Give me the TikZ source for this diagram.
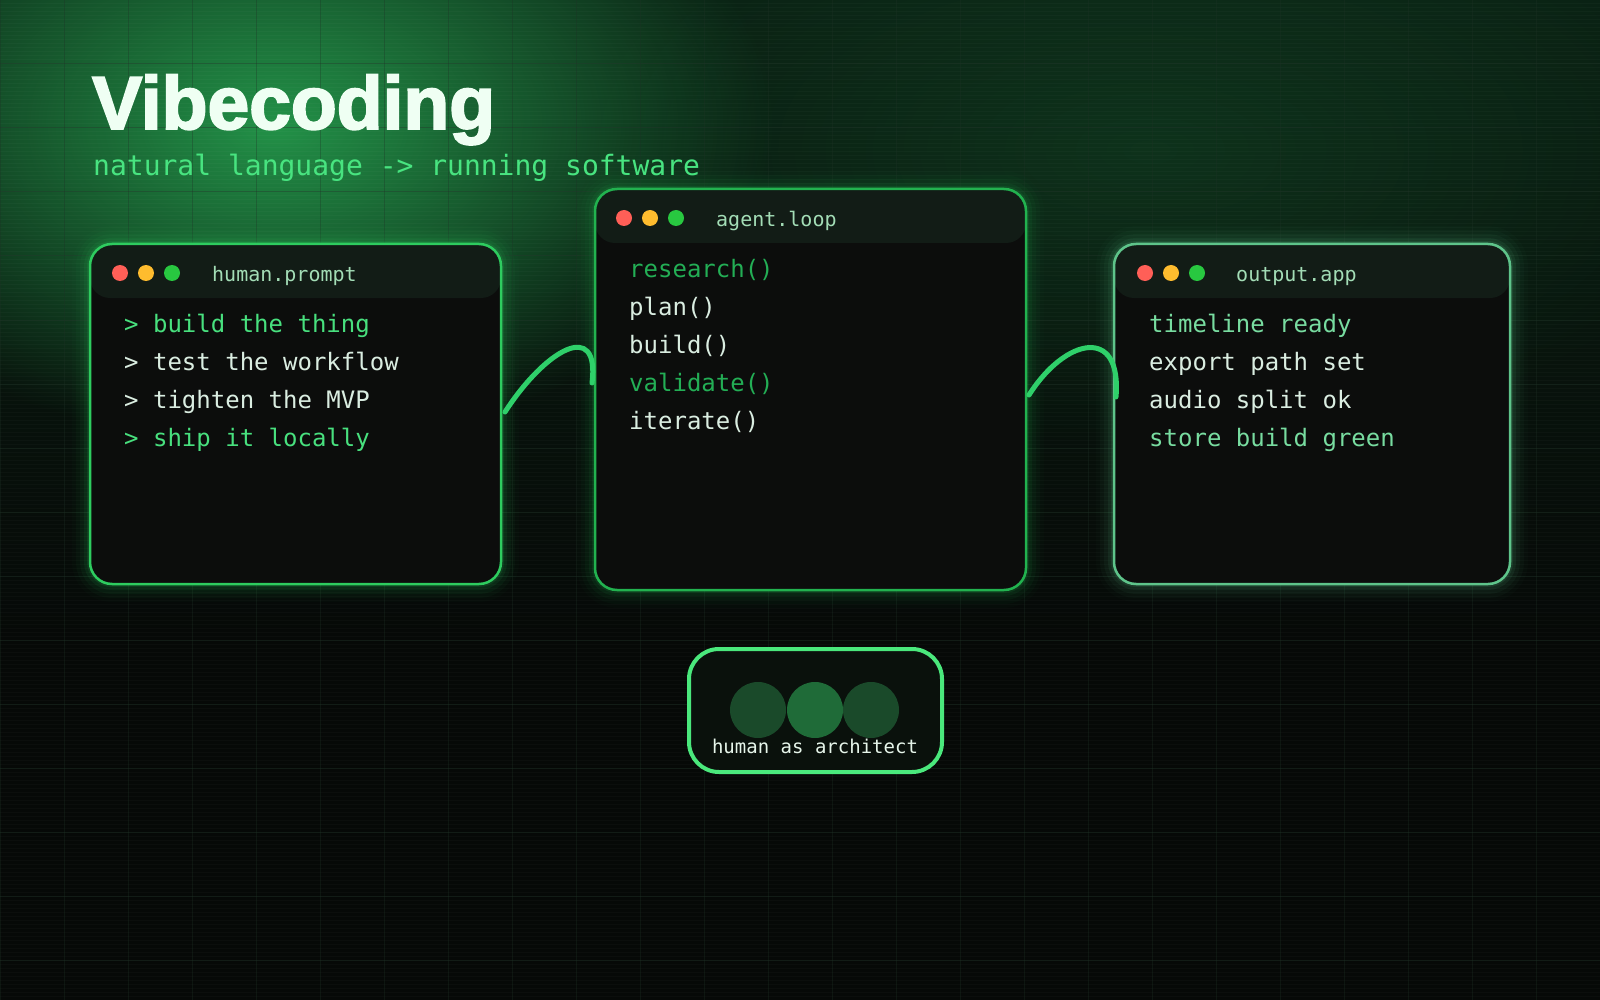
\documentclass[tikz,border=0pt]{standalone}
\usepackage{fontspec}
\setmonofont{DejaVu Sans Mono}
\newfontfamily\titlefont[FakeBold=2.6]{Liberation Sans Bold}
\usetikzlibrary{fadings,fit,calc}
\tikzfading[name=glowfade, inner color=transparent!0, outer color=transparent!100]
\definecolor{bgbase}{HTML}{060907}
\definecolor{bgtop}{HTML}{0A2013}
\definecolor{glowa}{HTML}{24984B}
\definecolor{glowb}{HTML}{1A6A36}
\definecolor{titlecol}{HTML}{EFFFF3}
\definecolor{subcol}{HTML}{48E480}
\definecolor{winfill}{HTML}{0C0D0C}
\definecolor{barfill}{HTML}{121C16}
\definecolor{bartext}{HTML}{A3DDB6}
\definecolor{bordL}{HTML}{2ECC5F}
\definecolor{bordM}{HTML}{22B24F}
\definecolor{bordR}{HTML}{5EC48A}
\definecolor{lgreen}{HTML}{48E07E}
\definecolor{mgreen}{HTML}{23AE55}
\definecolor{rgreen}{HTML}{78DCA0}
\definecolor{wtext}{HTML}{DAEDE1}
\definecolor{dotr}{HTML}{FF5F57}
\definecolor{doty}{HTML}{FEBC2E}
\definecolor{dotg}{HTML}{28C840}
\definecolor{conncol}{HTML}{2FD06A}
\definecolor{pillbord}{HTML}{4AE87C}
\definecolor{pillfill}{HTML}{0A110C}
\definecolor{circd}{HTML}{1A4A2A}
\definecolor{circm}{HTML}{1F6B38}
\definecolor{pilltext}{HTML}{E6F5EA}
\definecolor{gridcol}{HTML}{1E3226}
\tikzset{
  tx/.style={anchor=base west, inner sep=0pt, font=\ttfamily\fontsize{24}{28}\selectfont},
  ttl/.style={anchor=base west, inner sep=0pt, font=\ttfamily\fontsize{20}{24}\selectfont, text=bartext},
  wdot/.style={circle, inner sep=0pt, minimum size=16},
  winbody/.style={inner sep=0pt, outer sep=0pt, fill=winfill, rounded corners=22},
  conn/.style={draw=conncol, line width=5, line cap=round},
  disc/.style={circle, inner sep=0pt, minimum size=56},
}
\newcommand\mywin[6]{%
  \foreach \w/\o in {36/0.02,28/0.035,20/0.05,12/0.08,6/0.12}{
    \draw[#6, line width=\w, opacity=\o, rounded corners=22] (#2,#3) rectangle (#4,#5);
  }
  \node[winbody, fit={(#2,#3) (#4,#5)}] (#1) {};
  \begin{scope}
    \clip[rounded corners=22] (#2,#3) rectangle (#4,#5);
    \fill[barfill, rounded corners=20] ($(#2,#3)+(0,-30)$) rectangle ($(#4,#3)+(0,54)$);
  \end{scope}
  \draw[#6, line width=2.5, rounded corners=22] (#2,#3) rectangle (#4,#5);
}
\begin{document}
\begin{tikzpicture}[x=1pt,y=-1pt]
\useasboundingbox (0,0) rectangle (1600,1000);
% background
\fill[bgbase] (0,0) rectangle (1600,1000);
\shade[top color=bgtop, bottom color=bgbase] (0,0) rectangle (1600,640);
\fill[glowa, path fading=glowfade, opacity=0.95] (275,125) ellipse [x radius=500, y radius=320];
\fill[glowb, path fading=glowfade, opacity=0.3] (1150,150) ellipse [x radius=600, y radius=300];
% scanlines and grid
\foreach \y in {0,4,...,1000}{\draw[white, opacity=0.025, line width=1] (0,\y) -- (1600,\y);}
\foreach \x in {0,64,...,1600}{\draw[gridcol, opacity=0.32, line width=1] (\x,0) -- (\x,1000);}
\foreach \y in {0,64,...,1000}{\draw[gridcol, opacity=0.4, line width=1] (0,\y) -- (1600,\y);}
% title
\node[anchor=base west, inner sep=0pt, text=titlecol, font=\titlefont\fontsize{75}{80}\selectfont] (title) at (92,129) {Vibecoding};
\node[anchor=base west, inner sep=0pt, text=subcol, font=\ttfamily\fontsize{28}{32}\selectfont] (subtitle) at (93,176) {natural language -> running software};
% windows
\mywin{hp}{90}{244}{501}{584}{bordL}
\mywin{ag}{595}{189}{1026}{590}{bordM}
\mywin{op}{1114}{244}{1510}{584}{bordR}
% dots and titles
\node[wdot, fill=dotr] (hpr) at (120,273) {};
\node[wdot, fill=doty] (hpy) at (146,273) {};
\node[wdot, fill=dotg] (hpg) at (172,273) {};
\node[ttl] (hpt) at (212,282) {human.prompt};
\node[wdot, fill=dotr] (agr) at (624,218) {};
\node[wdot, fill=doty] (agy) at (650,218) {};
\node[wdot, fill=dotg] (agg) at (676,218) {};
\node[ttl] (agt) at (716,227) {agent.loop};
\node[wdot, fill=dotr] (opr) at (1145,273) {};
\node[wdot, fill=doty] (opy) at (1171,273) {};
\node[wdot, fill=dotg] (opg) at (1197,273) {};
\node[ttl] (opt) at (1236,282) {output.app};
% left text
\node[tx, text=lgreen] (hp1) at (124,332) {> build the thing};
\node[tx, text=wtext] (hp2) at (124,370) {> test the workflow};
\node[tx, text=wtext] (hp3) at (124,408) {> tighten the MVP};
\node[tx, text=lgreen] (hp4) at (124,446) {> ship it locally};
% middle text
\node[tx, text=mgreen] (ag1) at (629,277) {research()};
\node[tx, text=wtext] (ag2) at (629,315) {plan()};
\node[tx, text=wtext] (ag3) at (629,353) {build()};
\node[tx, text=mgreen] (ag4) at (629,391) {validate()};
\node[tx, text=wtext] (ag5) at (629,429) {iterate()};
% right text
\node[tx, text=rgreen] (op1) at (1149,332) {timeline ready};
\node[tx, text=wtext] (op2) at (1149,370) {export path set};
\node[tx, text=wtext] (op3) at (1149,408) {audio split ok};
\node[tx, text=rgreen] (op4) at (1149,446) {store build green};
% connectors
\coordinate (c1a) at (505,412);
\coordinate (c1b) at (592,383);
\coordinate (c2a) at (1029,395);
\coordinate (c2b) at (1116,397);
\draw[conn] (c1a) .. controls (545,350) and (600,318) .. (c1b);
\draw[conn] (c2a) .. controls (1065,338) and (1122,325) .. (c2b);
% pill
\node[fit={(689,649) (942,772)}, inner sep=0pt, outer sep=0pt, draw=pillbord, fill=pillfill, line width=4, rounded corners=30] (arch) {};
\node[disc, fill=circd] (d1) at (758,710) {};
\node[disc, fill=circd] (d3) at (871,710) {};
\node[disc, fill=circm] (d2) at (815,710) {};
\node[anchor=base, inner sep=0pt, text=pilltext, font=\ttfamily\fontsize{19}{22}\selectfont] (archtxt) at (815,753) {human as architect};
\end{tikzpicture}
\end{document}
